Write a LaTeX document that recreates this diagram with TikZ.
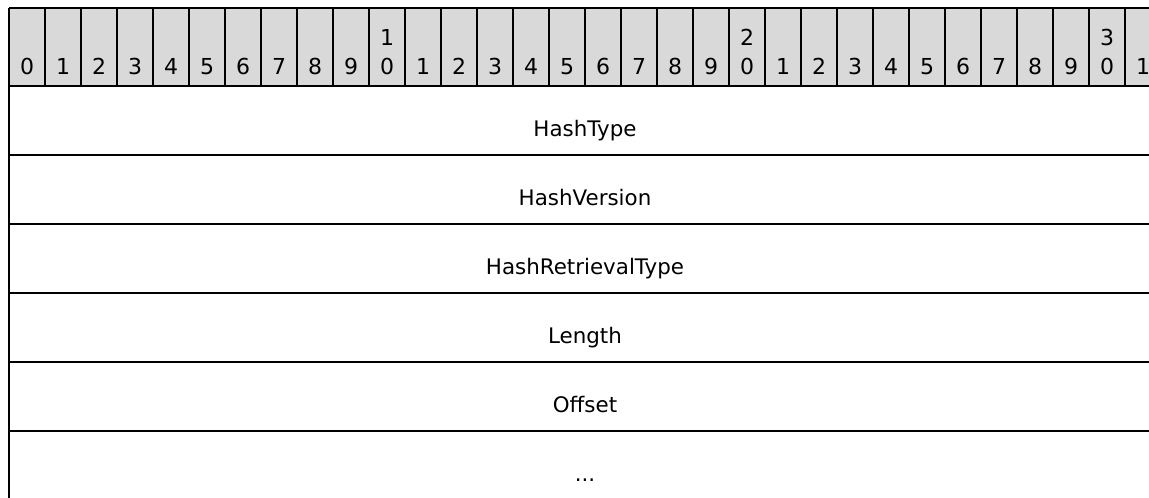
\documentclass[tikz,border=0pt]{standalone}
\usepackage{fontspec}
\setmainfont{DejaVu Sans}
\definecolor{hdrgray}{RGB}{217,217,217}
\tikzset{
  rule/.style={line width=2pt, black},
  bitnum/.style={anchor=base, inner sep=0pt, font=\fontsize{22}{26}\selectfont},
  field/.style={anchor=base, inner sep=0pt, font=\fontsize{21.4}{25}\selectfont}
}
\begin{document}
\begin{tikzpicture}[x=1pt,y=-1pt]
\useasboundingbox (0,0) rectangle (1149,498);
% header background
\fill[hdrgray] (9,8) rectangle (1149,86);
% bit numbers
\foreach \i in {0,...,31} {
  \pgfmathtruncatemacro\xl{9+36*\i}
  \pgfmathtruncatemacro\xc{27+36*\i}
  \pgfmathtruncatemacro\ones{mod(\i,10)}
  \pgfmathtruncatemacro\tens{int(\i/10)}
  \draw[rule] (\xl,8) -- (\xl,86);
  \ifnum\ones=0
    \ifnum\tens>0
      \node[bitnum] (t\i) at (\xc,45.5) {\tens};
    \fi
  \fi
  \node[bitnum] (b\i) at (\xc,74.5) {\ones};
}
% frame and row rules
\draw[rule] (9,8) -- (1149,8);
\draw[rule] (9,8) -- (9,498);
\foreach \y in {86,155,224,293,362,431} {
  \draw[rule] (9,\y) -- (1149,\y);
}
% fields
\node[field] (f1) at (585,136) {HashType};
\node[field] (f2) at (585,205) {HashVersion};
\node[field] (f3) at (585,274) {HashRetrievalType};
\node[field] (f4) at (585,343) {Length};
\node[field] (f5) at (585,412) {Offset};
\node[field] (f6) at (585,481) {...};
\end{tikzpicture}
\end{document}
